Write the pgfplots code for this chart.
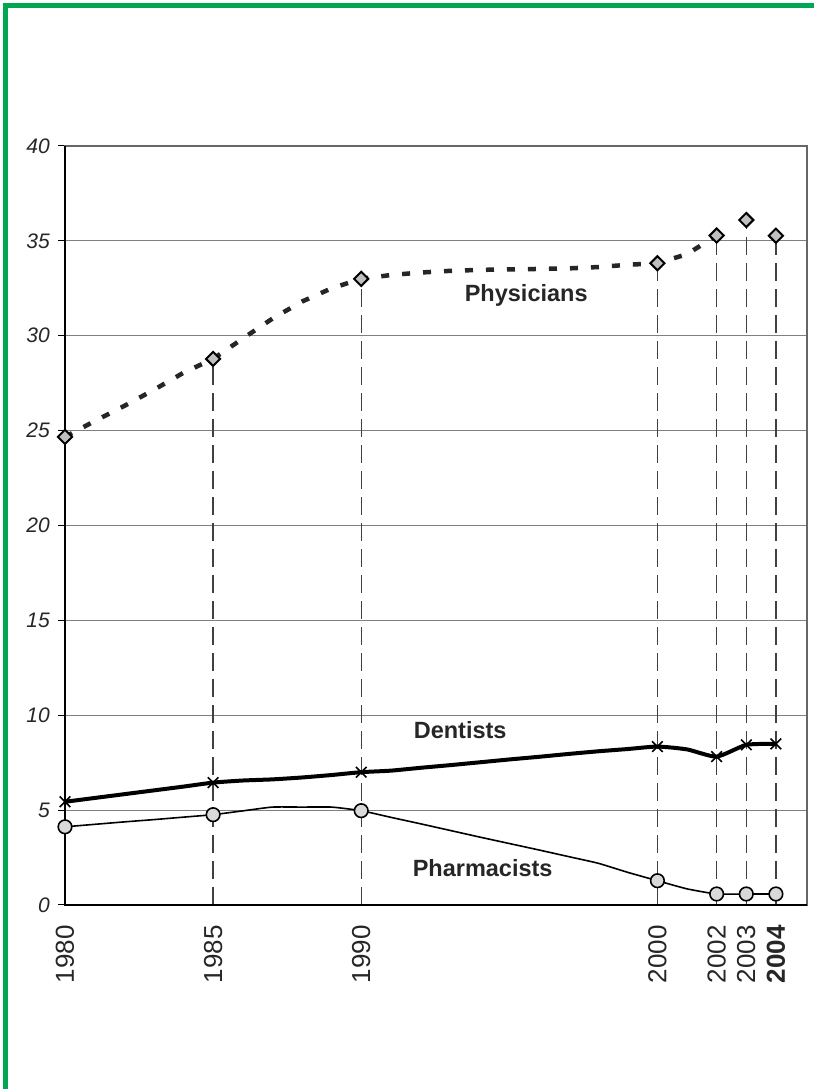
\documentclass[border=0pt]{standalone}
\usepackage{fontspec}
\setmainfont{Liberation Sans}
\usepackage{pgfplots}
\pgfplotsset{compat=1.18}
\definecolor{frgreen}{RGB}{0,166,81}
\definecolor{markgray}{RGB}{192,192,192}
\definecolor{circgray}{RGB}{217,217,217}
\definecolor{txt}{RGB}{38,38,38}
\begin{document}
\begin{tikzpicture}[x=1pt,y=1pt]
\useasboundingbox (0,0) rectangle (814,1089);
\fill[white] (0,0) rectangle (814,1089);
\draw[frgreen, line width=5pt] (5.5,0) -- (5.5,1083.5) -- (814,1083.5);
\begin{axis}[
  at={(65pt,184pt)}, anchor=south west, scale only axis,
  width=742pt, height=759pt,
  xmin=1980, xmax=2005.05, ymin=0, ymax=40,
  axis line style={draw=gray!80!black, line width=1.2pt},
  xtick={1980,1985,1990,2000,2002,2003,2004},
  xticklabels={1980,1985,1990,2000,2002,2003,\textbf{2004}},
  xtick style={draw=none},
  xticklabel style={rotate=90, anchor=east, inner sep=0pt, font=\fontsize{26}{26}\selectfont, text=txt},
  xticklabel shift=13pt,
  ytick={0,5,...,40},
  yticklabels={0,5,10,15,20,25,30,35,40},
  ytick pos=left, tick align=outside, major tick length=7pt,
  ytick style={black, line width=1pt},
  yticklabel style={inner sep=0pt, font=\fontsize{21}{21}\selectfont\itshape, text=txt},
  yticklabel shift=8pt,
  ymajorgrids, grid style={gray, line width=1pt},
  clip=false,
]
% drop lines
\addplot[ycomb, color=black!75, line width=1.3pt, dash pattern=on 18pt off 8pt] coordinates {
 (1985,28.78) (1990,33.0) (2000,33.82) (2002,35.28) (2003,36.1) (2004,35.27)};
% Physicians line
\addplot[black!85, line width=4.5pt, dash pattern=on 8pt off 13pt] coordinates {
 (1980,24.67) (1981,25.5) (1982,26.3) (1983,27.15) (1984,28.05) (1985,28.78)
 (1986,29.85) (1987,30.9) (1988,31.8) (1989,32.5) (1990,33.0)
 (1991,33.2) (1992,33.33) (1993,33.42) (1994,33.47) (1995,33.5) (1996,33.52)
 (1997,33.55) (1998,33.62) (1999,33.74) (2000,33.82) (2001,34.3) (2002,35.28)};
% Dentists line
\addplot[black, line width=4pt, smooth, tension=0.35] coordinates {
 (1980,5.44) (1981,5.64) (1982,5.84) (1983,6.04) (1984,6.24) (1985,6.45)
 (1986,6.56) (1987,6.62) (1988,6.72) (1989,6.85) (1990,7.0)
 (1991,7.08) (1992,7.23) (1993,7.37) (1994,7.52) (1995,7.67) (1996,7.81)
 (1997,7.96) (1998,8.1) (1999,8.22) (2000,8.35) (2001,8.2) (2002,7.82)
 (2003,8.44) (2004,8.49)};
% Pharmacists line
\addplot[black, line width=1.6pt, smooth, tension=0.3] coordinates {
 (1980,4.12) (1981,4.25) (1982,4.38) (1983,4.5) (1984,4.63) (1985,4.76)
 (1986,4.96) (1987,5.16) (1988,5.16) (1989,5.16) (1990,4.97)
 (1991,4.62) (1992,4.28) (1993,3.93) (1994,3.58) (1995,3.24) (1996,2.9)
 (1997,2.55) (1998,2.2) (1999,1.72) (2000,1.28) (2001,0.85) (2002,0.58)
 (2003,0.58) (2004,0.58)};
% markers
\addplot[only marks, mark=square*, mark size=5pt,
  mark options={rotate=45, fill=markgray, draw=black, line width=2pt}] coordinates {
 (1980,24.67) (1985,28.78) (1990,33.0) (2000,33.82) (2002,35.28) (2003,36.1) (2004,35.27)};
\addplot[only marks, mark=x, mark size=7.5pt, mark options={black, line width=1.6pt}] coordinates {
 (1980,5.44) (1985,6.45) (1990,7.0) (2000,8.35) (2002,7.82) (2003,8.44) (2004,8.49)};
\addplot[only marks, mark=*, mark size=6.8pt, mark options={fill=circgray, draw=black, line width=1.6pt}] coordinates {
 (1980,4.12) (1985,4.76) (1990,4.97) (2000,1.28) (2002,0.58) (2003,0.58) (2004,0.58)};
% left and bottom axis lines
\draw[black, line width=2.2pt] (rel axis cs:0,1) -- (rel axis cs:0,0) -- (rel axis cs:1,0);
% labels
\node[anchor=base, font=\fontsize{23.5}{23.5}\selectfont\bfseries, text=txt, inner sep=0pt] at (axis cs:1995.57,31.79) {Physicians};
\node[anchor=base, font=\fontsize{23.5}{23.5}\selectfont\bfseries, text=txt, inner sep=0pt] at (axis cs:1993.34,8.80) {Dentists};
\node[anchor=base, font=\fontsize{23.5}{23.5}\selectfont\bfseries, text=txt, inner sep=0pt] at (axis cs:1994.1,1.49) {Pharmacists};
\end{axis}
\end{tikzpicture}
\end{document}
